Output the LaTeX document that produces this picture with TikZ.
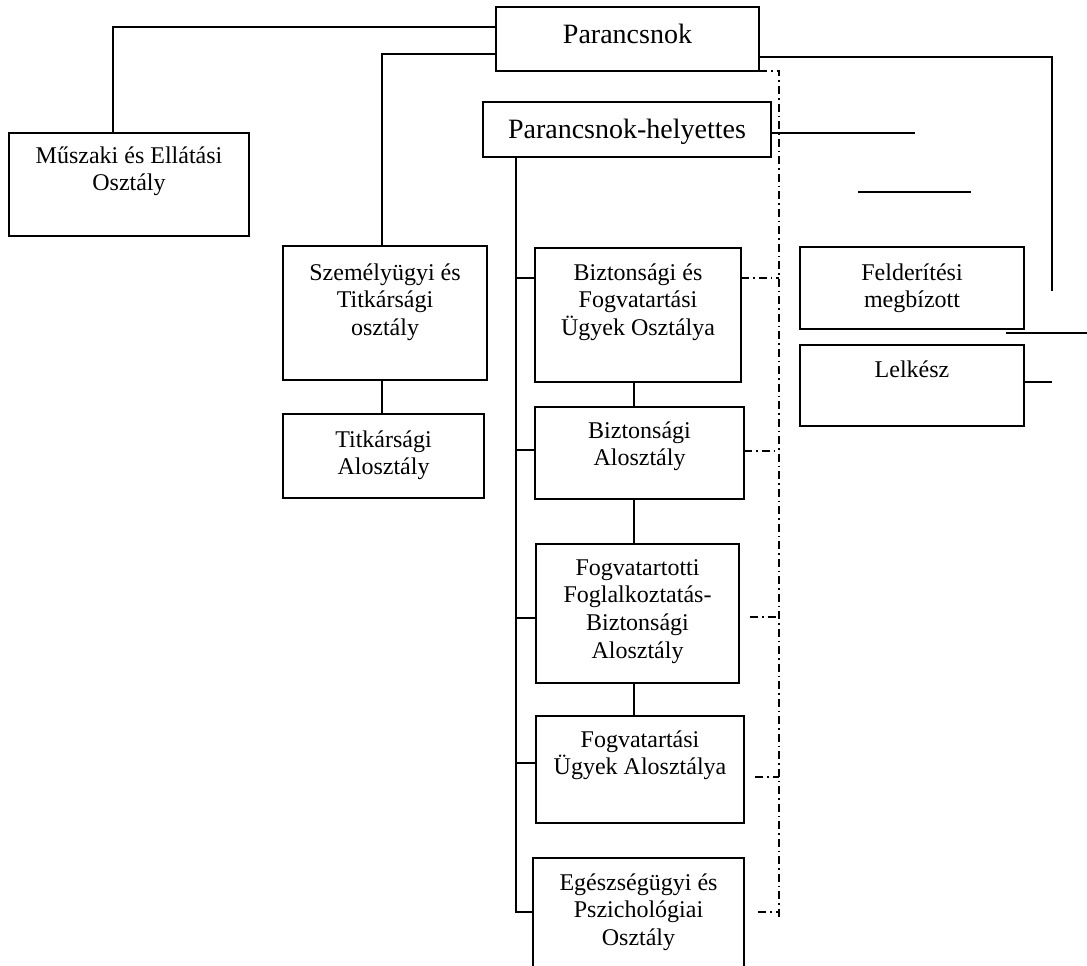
\documentclass[tikz,border=0pt]{standalone}
\usepackage{fontspec}
\setmainfont{Liberation Serif}
\tikzset{
  box/.style={draw, line width=1.2pt, rectangle, inner sep=0pt, outer sep=0pt},
  conn/.style={line width=1.2pt},
  dd/.style={line width=1.2pt, dash pattern=on 8pt off 4pt on 1.5pt off 4pt},
  txt/.style={anchor=north, inner sep=0pt, align=center, font=\fontsize{24pt}{27.6pt}\selectfont},
  ttl/.style={anchor=north, inner sep=0pt, align=center, font=\fontsize{28pt}{32pt}\selectfont},
}
\newcommand\bx[5]{\node[box, minimum width={(#4)-(#2)}, minimum height={(#5)-(#3)}] (#1) at ({((#2)+(#4))/2},{((#3)+(#5))/2}) {};}
\newcommand\tx[6]{\node[#1] (#2) at (#3,{#4-#5}) {\rule{0pt}{#5pt}#6};}
\begin{document}
\begin{tikzpicture}[x=1pt,y=-1pt]
\clip (0,0) rectangle (1087,966);
% boxes
\bx{par}{496}{7}{759}{71}
\bx{ph}{483}{102}{771}{157}
\bx{musz}{9}{133}{249}{236}
\bx{szem}{283}{246}{487}{380}
\bx{tit}{283}{414}{484}{498}
\bx{bfu}{535}{248}{741}{382}
\bx{ba}{535}{407}{744}{499}
\bx{fogl}{536}{544}{739}{683}
\bx{fu}{536}{716}{744}{823}
\bx{egs}{533}{858}{744}{1000}
\bx{feld}{800}{247}{1024}{329}
\bx{lel}{800}{345}{1024}{426}
% texts
\tx{ttl}{par-t}{627.5}{43}{26}{Parancsnok}
\tx{ttl}{ph-t}{627}{138}{26}{Parancsnok-helyettes}
\tx{txt}{musz-t}{129}{163}{24}{Műszaki és Ellátási\\Osztály}
\tx{txt}{szem-t}{385}{280}{24}{Személyügyi és\\Titkársági\\osztály}
\tx{txt}{tit-t}{383.5}{447}{24}{Titkársági\\Alosztály}
\tx{txt}{bfu-t}{638}{280}{24}{Biztonsági és\\Fogvatartási\\Ügyek Osztálya}
\tx{txt}{ba-t}{639.5}{438}{24}{Biztonsági\\Alosztály}
\tx{txt}{fogl-t}{637.5}{575}{24}{Fogvatartotti\\Foglalkoztatás-\\Biztonsági\\Alosztály}
\tx{txt}{fu-t}{640}{747}{24}{Fogvatartási\\Ügyek Alosztálya}
\tx{txt}{egs-t}{638.5}{890}{24}{Egészségügyi és\\Pszichológiai\\Osztály}
\tx{txt}{feld-t}{912}{280}{24}{Felderítési\\megbízott}
\tx{txt}{lel-t}{912}{377}{24}{Lelkész}
% coordinates
\coordinate (la) at (113,27);
\coordinate (lb) at (382,54);
\coordinate (ra) at (1052,57);
\coordinate (rb) at (1052,291);
\coordinate (sp) at (516,913);
\coordinate (b1) at (516,278);
\coordinate (b2) at (516,450);
\coordinate (b3) at (516,618);
\coordinate (b4) at (516,763);
\coordinate (b5) at (516,912);
\coordinate (vc) at (634,0);
\coordinate (dbot) at (779,920);
\coordinate (d1) at (779,278);
\coordinate (d2) at (779,451);
\coordinate (d3s) at (750,617);
\coordinate (d3) at (779,617);
\coordinate (d4s) at (755,777);
\coordinate (d4) at (779,777);
\coordinate (d5s) at (758,912);
\coordinate (d5) at (779,912);
\coordinate (h1) at (915,133);
\coordinate (f1) at (858,192);
\coordinate (f2) at (971,192);
\coordinate (g1) at (1006,333);
\coordinate (g2) at (1087,333);
\coordinate (l1) at (1052,382);
% solid connectors
\draw[conn] (par.west |- la) -| (musz.north -| la);
\draw[conn] (par.west |- lb) -| (szem.north -| lb);
\draw[conn] (szem.south -| lb) -- (tit.north -| lb);
\draw[conn] (par.east |- ra) -- (ra) -- (rb);
\draw[conn] (ph.south -| sp) -- (sp);
\draw[conn] (b1) -- (b1 -| bfu.west);
\draw[conn] (b2) -- (b2 -| ba.west);
\draw[conn] (b3) -- (b3 -| fogl.west);
\draw[conn] (b4) -- (b4 -| fu.west);
\draw[conn] (b5) -- (b5 -| egs.west);
\draw[conn] (bfu.south -| vc) -- (ba.north -| vc);
\draw[conn] (ba.south -| vc) -- (fogl.north -| vc);
\draw[conn] (fogl.south -| vc) -- (fu.north -| vc);
\draw[conn] (ph.east |- h1) -- (h1);
\draw[conn] (f1) -- (f2);
\draw[conn] (g1) -- (g2);
\draw[conn] (lel.east |- l1) -- (l1);
% dash-dot connectors
\draw[dd] (par.south east) -| (dbot);
\draw[dd] (bfu.east |- d1) -- (d1);
\draw[dd] (ba.east |- d2) -- (d2);
\draw[dd] (d3s) -- (d3);
\draw[dd] (d4s) -- (d4);
\draw[dd] (d5s) -- (d5);
\end{tikzpicture}
\end{document}
